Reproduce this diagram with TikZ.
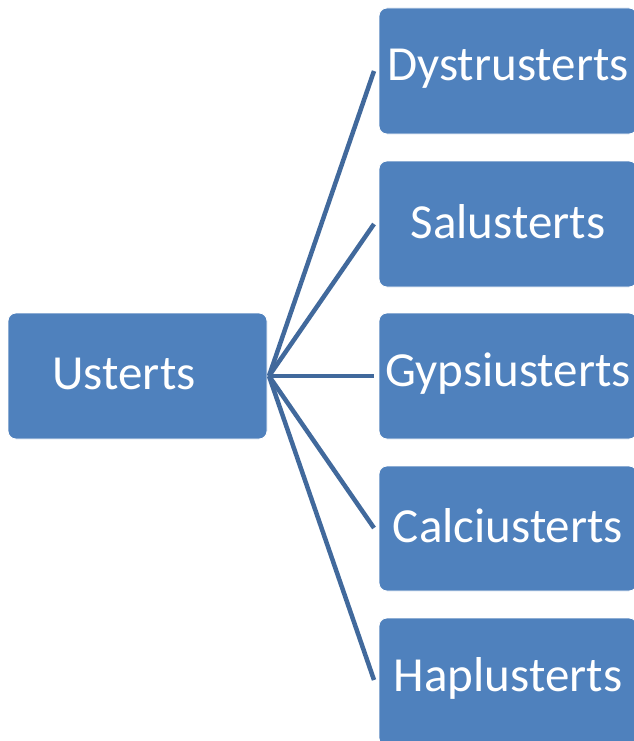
\documentclass[tikz,border=0pt]{standalone}
\usepackage{fontspec}
\setmainfont{Carlito}
\definecolor{boxfill}{HTML}{4F81BD}
\definecolor{linecol}{HTML}{41699C}
\begin{document}
\begin{tikzpicture}[x=1pt,y=-1pt,
  box/.style={fill=boxfill,draw=white,line width=0.8pt,rounded corners=8pt},
  lbl/.style={text=white,font=\fontsize{49}{56}\selectfont,inner sep=0pt},
  conn/.style={draw=linecol,line width=4.5pt}]
\useasboundingbox (0,0) rectangle (633,741);
\fill[white] (0,0) rectangle (633,741);
% left box
\path[box] (8,313) rectangle (267,439);
\node[lbl] (u) at (124,374) {Usterts};
% right boxes
\path[box] (379,8) rectangle (637,134);
\path[box] (379,161) rectangle (637,287);
\path[box] (379,313) rectangle (637,439);
\path[box] (379,466) rectangle (637,591);
\path[box] (379,618) rectangle (637,746);
\node[lbl] (d) at (508,69) {Dystrusterts};
\node[lbl] (s) at (508,222) {Salusterts};
\node[lbl] (g) at (508,374) {Gypsiusterts};
\node[lbl] (c) at (508,526) {Calciusterts};
\node[lbl] (h) at (508,678) {Haplusterts};
\coordinate (o) at (269,376);
\coordinate (e1) at (374,71);
\coordinate (e2) at (374,224);
\coordinate (e3) at (374,376);
\coordinate (e4) at (374,528);
\coordinate (e5) at (374,680);
\draw[conn] (o) -- (e1);
\draw[conn] (o) -- (e2);
\draw[conn] (o) -- (e3);
\draw[conn] (o) -- (e4);
\draw[conn] (o) -- (e5);
\end{tikzpicture}
\end{document}
